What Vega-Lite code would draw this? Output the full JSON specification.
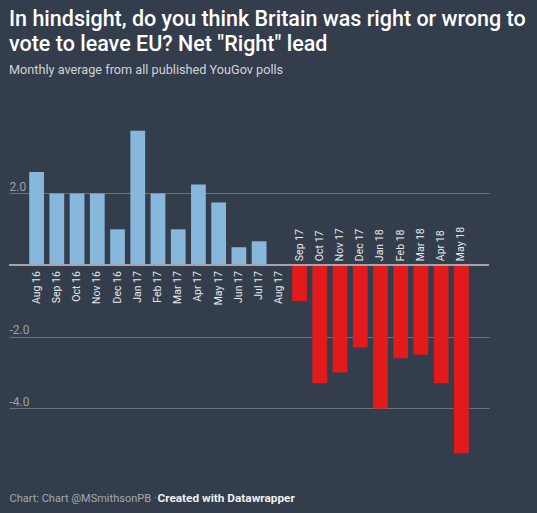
{
  "$schema": "https://vega.github.io/schema/vega-lite/v6.json",
  "autosize": {"type": "none"},
  "width": 480,
  "height": 326,
  "padding": {"left": 9, "top": 129, "right": 48, "bottom": 58},
  "background": "#333d4c",
  "config": {
    "font": "Roboto",
    "view": {"stroke": null},
    "axis": {"labelFont": "Roboto", "titleFont": "Roboto"}
  },
  "title": {
    "text": ["In hindsight, do you think Britain was right or wrong to", "vote to leave EU? Net \"Right\" lead"],
    "subtitle": "Monthly average from all published YouGov polls",
    "anchor": "start",
    "frame": "group",
    "font": "Roboto",
    "fontSize": 21.5,
    "fontWeight": 500,
    "lineHeight": 24.5,
    "color": "#ffffff",
    "subtitleFont": "Roboto",
    "subtitleFontSize": 12.7,
    "subtitleColor": "#d0d3d8",
    "subtitlePadding": 9,
    "offset": 52
  },
  "data": {
    "values": [
      {"month": "Aug 16", "value": 2.6},
      {"month": "Sep 16", "value": 2.0},
      {"month": "Oct 16", "value": 2.0},
      {"month": "Nov 16", "value": 2.0},
      {"month": "Dec 16", "value": 1.0},
      {"month": "Jan 17", "value": 3.75},
      {"month": "Feb 17", "value": 2.0},
      {"month": "Mar 17", "value": 1.0},
      {"month": "Apr 17", "value": 2.25},
      {"month": "May 17", "value": 1.75},
      {"month": "Jun 17", "value": 0.5},
      {"month": "Jul 17", "value": 0.67},
      {"month": "Aug 17", "value": 0},
      {"month": "Sep 17", "value": -1.0},
      {"month": "Oct 17", "value": -3.3},
      {"month": "Nov 17", "value": -3.0},
      {"month": "Dec 17", "value": -2.3},
      {"month": "Jan 18", "value": -4.0},
      {"month": "Feb 18", "value": -2.6},
      {"month": "Mar 18", "value": -2.5},
      {"month": "Apr 18", "value": -3.3},
      {"month": "May 18", "value": -5.25}
    ]
  },
  "encoding": {
    "x": {
      "field": "month",
      "type": "ordinal",
      "sort": null,
      "scale": {"paddingInner": 0.27, "paddingOuter": 1.15},
      "axis": {
        "orient": "bottom",
        "labels": false,
        "ticks": false,
        "domain": false,
        "grid": false,
        "title": "Chart: Chart @MSmithsonPB · ",
        "titleAnchor": "start",
        "titleAlign": "left",
        "titleBaseline": "alphabetic",
        "titleX": 0,
        "titleY": 46,
        "titleFontSize": 11,
        "titleFontWeight": "normal",
        "titleColor": "#a3a9b3"
      }
    }
  },
  "layer": [
    {
      "mark": {"type": "bar"},
      "encoding": {
        "y": {
          "field": "value",
          "type": "quantitative",
          "scale": {"domain": [-5.3, 3.8], "nice": false, "zero": false},
          "axis": {
            "orient": "left",
            "values": [-4, -2, 2],
            "grid": true,
            "gridColor": "#6a7280",
            "gridWidth": 1,
            "domain": false,
            "ticks": false,
            "tickSize": 0,
            "labelPadding": 0,
            "labelAlign": "left",
            "labelBaseline": "bottom",
            "labelDy": -4,
            "labelFontSize": 12,
            "labelColor": "#9aa1ab",
            "labelExpr": "(datum.value < 0 ? '-' : '') + format(abs(datum.value), '.1f')",
            "title": "Created with Datawrapper",
            "titleAngle": 0,
            "titleAlign": "left",
            "titleBaseline": "alphabetic",
            "titleX": 148,
            "titleY": 372,
            "titleFontSize": 11.8,
            "titleFontWeight": "bold",
            "titleColor": "#eef0f2"
          }
        },
        "color": {
          "condition": {"test": "datum.value < 0", "value": "#e31a1c"},
          "value": "#88b7dc"
        }
      }
    },
    {
      "mark": {"type": "rule", "color": "#a3a6ab", "strokeWidth": 1.5},
      "encoding": {"y": {"datum": 0}, "x": null}
    },
    {
      "transform": [{"filter": "datum.value >= 0"}],
      "mark": {"type": "text", "angle": 270, "align": "right", "baseline": "middle", "dx": -6, "fontSize": 10.5, "color": "#e6e8eb"},
      "encoding": {"y": {"datum": 0}, "text": {"field": "month"}}
    },
    {
      "transform": [{"filter": "datum.value < 0"}],
      "mark": {"type": "text", "angle": 270, "align": "left", "baseline": "middle", "dx": 4, "fontSize": 10.5, "color": "#e6e8eb"},
      "encoding": {"y": {"datum": 0}, "text": {"field": "month"}}
    }
  ]
}
